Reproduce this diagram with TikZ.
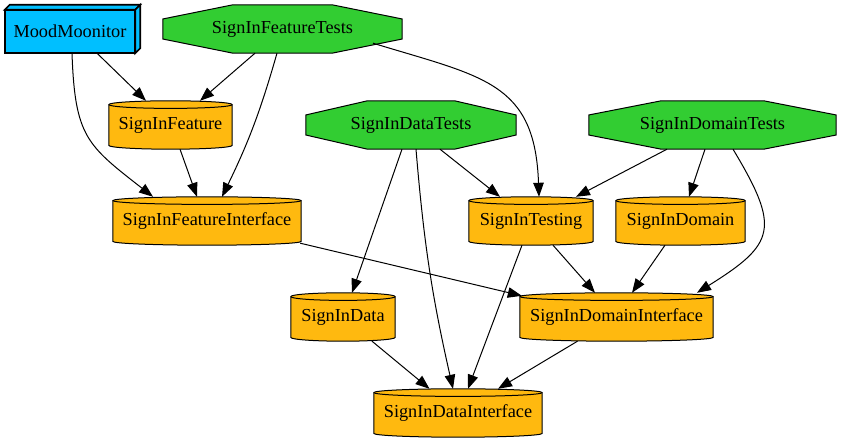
\documentclass[tikz,border=0pt]{standalone}
\usepackage{fontspec}
\setmainfont{Liberation Serif}
\usetikzlibrary{arrows.meta,calc,backgrounds}
\definecolor{testgreen}{HTML}{32CD32}
\definecolor{modorange}{HTML}{FFB90F}
\definecolor{appblue}{HTML}{00BFFF}

\begin{document}
\begin{tikzpicture}[
    x=1pt, y=1pt,
    mod/.style={inner sep=0pt, minimum height=48pt, font=\fontsize{18.3}{20}\selectfont},
    cylfill/.style={fill=modorange, draw=black, line width=1pt},
    octfill/.style={fill=testgreen, draw=black, line width=1pt},
    boxfill/.style={fill=appblue, draw=black, line width=1.6pt, line join=miter},
    arr/.style={-{Triangle[length=14pt,width=10.5pt]}, line width=1pt},
  ]
  \useasboundingbox (0,0) rectangle (841,443);

  % Top rank: app and test targets
  \node[mod, minimum width=130pt, minimum height=43pt] (MM) at (70,411.5) {MoodMoonitor};
  \node[mod, minimum width=239pt] (FeatTests) at (282.5,414) {SignInFeatureTests};
  \node[mod, minimum width=210pt] (DataTests) at (411,318) {SignInDataTests};
  \node[mod, minimum width=247pt] (DomTests) at (712.5,318) {SignInDomainTests};

  % Modules
  \node[mod, minimum width=123pt] (Feat) at (170.5,318) {SignInFeature};
  \node[mod, minimum width=188pt] (FeatIf) at (207,222) {SignInFeatureInterface};
  \node[mod, minimum width=124pt] (Testing) at (531,222) {SignInTesting};
  \node[mod, minimum width=129pt] (Dom) at (680.5,222) {SignInDomain};
  \node[mod, minimum width=193pt] (DomIf) at (616.5,126) {SignInDomainInterface};
  \node[mod, minimum width=104pt] (Data) at (343,126) {SignInData};
  \node[mod, minimum width=168pt] (DataIf) at (458,30) {SignInDataInterface};

  \begin{scope}[on background layer]
    % 3d box for the app
    \filldraw[boxfill] (MM.north west) -- ++(5,5) -- ([shift={(5,5)}]MM.north east) -- (MM.north east) -- cycle;
    \filldraw[boxfill] (MM.north east) -- ++(5,5) -- ([shift={(5,5)}]MM.south east) -- (MM.south east) -- cycle;
    \filldraw[boxfill] (MM.south west) rectangle (MM.north east);
    % octagons for tests
    \foreach \oct in {FeatTests,DataTests,DomTests}
      \filldraw[octfill] let \p1=(\oct.south west), \p2=(\oct.north east),
          \n1={0.2929*(\x2-\x1)}, \n2={0.2929*(\y2-\y1)} in
        (\x1+\n1,\y1) -- (\x2-\n1,\y1) -- (\x2,\y1+\n2) -- (\x2,\y2-\n2)
        -- (\x2-\n1,\y2) -- (\x1+\n1,\y2) -- (\x1,\y2-\n2) -- (\x1,\y1+\n2) -- cycle;
    % cylinders for modules
    \foreach \cyl in {Feat,FeatIf,Testing,Dom,DomIf,Data,DataIf} {
      \filldraw[cylfill] let \p1=(\cyl.south west), \p2=(\cyl.north east), \n1={(\x2-\x1)/2} in
        (\x1,\y2-3.8pt) -- (\x1,\y1+3.8pt)
        arc[start angle=180, end angle=360, x radius=\n1, y radius=3.8pt]
        -- (\x2,\y2-3.8pt)
        arc[start angle=0, end angle=180, x radius=\n1, y radius=3.8pt] -- cycle;
      \draw[cylfill, fill=none] let \p1=(\cyl.south west), \p2=(\cyl.north east), \n1={(\x2-\x1)/2} in
        (\x1,\y2-3.8pt) arc[start angle=180, end angle=360, x radius=\n1, y radius=3.8pt];
    }
  \end{scope}

  % Dependencies
  \draw[arr] ([xshift=27pt]MM.south) -- ([xshift=-24.5pt]Feat.north);
  \draw[arr] ([xshift=2pt]MM.south) to[out=-88, in=142, looseness=1.3] ([xshift=-54pt]FeatIf.north);
  \draw[arr] ([xshift=-27.5pt]FeatTests.south) -- ([xshift=29.5pt]Feat.north);
  \draw[arr] ([xshift=-5.5pt]FeatTests.south) to[bend left=5] ([xshift=15pt]FeatIf.north);
  \draw[arr] ([xshift=9.5pt]Feat.south) -- ([xshift=-10pt]FeatIf.north);
  \draw[arr] ([xshift=90.5pt,yshift=10pt]FeatTests.south) to[out=-17, in=92, looseness=1.3] ([xshift=8pt]Testing.north);

  \draw[arr] ([xshift=29pt]DataTests.south) -- ([xshift=-31pt]Testing.north);
  \draw[arr] ([xshift=-9pt]DataTests.south) -- ([xshift=9pt]Data.north);
  \draw[arr] ([xshift=5pt]DataTests.south) to[bend right=4] ([xshift=-5pt]DataIf.north);

  \draw[arr] ([xshift=-45.5pt]DomTests.south) -- ([xshift=45pt]Testing.north);
  \draw[arr] ([xshift=-7.5pt]DomTests.south) -- ([xshift=8.5pt]Dom.north);
  \draw[arr] ([xshift=20.5pt]DomTests.south) to[out=-59, in=32, looseness=1.6] ([xshift=80.5pt]DomIf.north);

  \draw[arr] ([shift={(-1,2)}]FeatIf.south east) -- ([shift={(2,-3)}]DomIf.north west);
  \draw[arr] ([xshift=22pt]Testing.south) -- ([xshift=-21.5pt]DomIf.north);
  \draw[arr] ([xshift=-15.5pt]Dom.south) -- ([xshift=15.5pt]DomIf.north);
  \draw[arr] ([xshift=-9pt]Testing.south) -- ([xshift=10pt]DataIf.north);
  \draw[arr] ([xshift=29pt]Data.south) -- ([xshift=-28.5pt]DataIf.north);
  \draw[arr] ([xshift=-39pt]DomIf.south) -- ([xshift=40pt]DataIf.north);
\end{tikzpicture}
\end{document}
